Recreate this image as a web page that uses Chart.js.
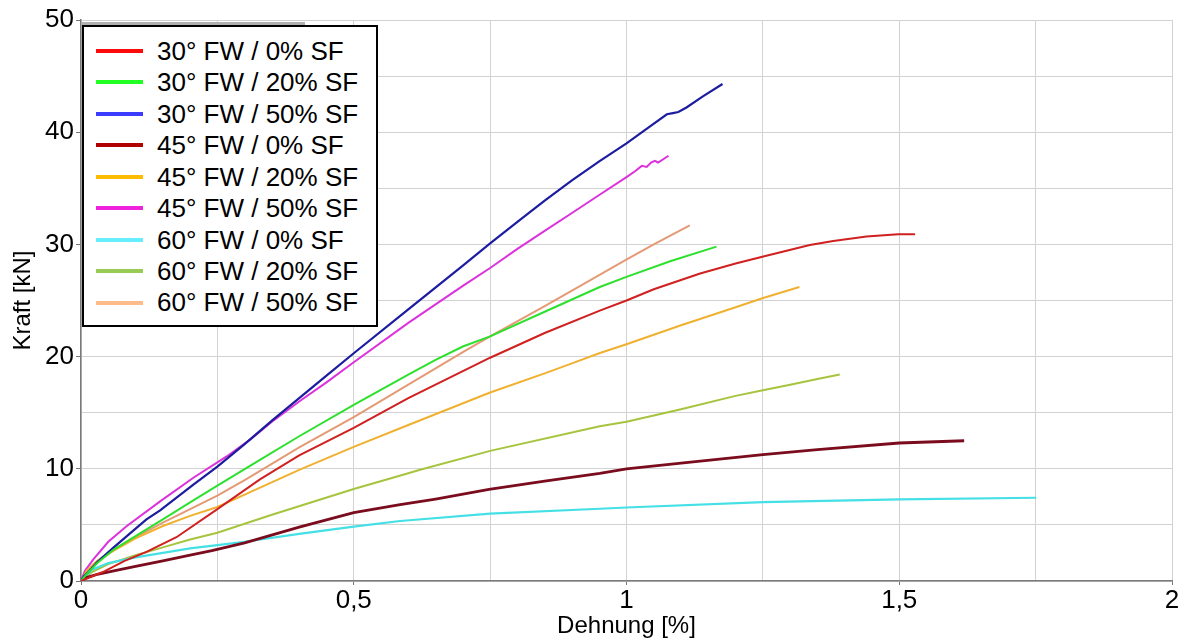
<!DOCTYPE html>
<html>
<head>
<meta charset="utf-8">
<script src="https://cdn.jsdelivr.net/npm/chart.js@4/dist/chart.umd.min.js"></script>
<style>
  html, body { margin: 0; padding: 0; background: #fff; }
  #wrap { position: relative; width: 1186px; height: 641px; }
  #c { position: absolute; left: 0; top: 0; }
  #legend { position: absolute; left: 82px; top: 24.5px; width: 292px; height: 298px;
            border: 2px solid #000; background: #fff; font-family: "Liberation Sans", Arial, sans-serif; }
  #legendShadow { position: absolute; left: 81px; top: 21.5px; width: 224px; height: 3px; background: #b0b0b0; }
  .row { position: absolute; left: 0; height: 31.46px; line-height: 31.46px; font-size: 26px; color: #000; white-space: nowrap; }
  .sw { position: absolute; left: 12px; width: 47px; height: 4px; }
  .lbl { position: absolute; left: 73px; top: 0; }
</style>
</head>
<body>
<div id="wrap">
  <canvas id="c" width="1186" height="641"></canvas>
  <div id="legendShadow"></div>
  <div id="legend"></div>
</div>
<script>
// ---------- data ----------
const seriesLabels = [
  "30° FW / 0% SF", "30° FW / 20% SF", "30° FW / 50% SF",
  "45° FW / 0% SF", "45° FW / 20% SF", "45° FW / 50% SF",
  "60° FW / 0% SF", "60° FW / 20% SF", "60° FW / 50% SF"
];
const lineColors   = ["#d02020", "#2ee02e", "#1c1ca0", "#7a0c1e", "#f0b030", "#dc32dc", "#44e0e6", "#a6c43e", "#e49a74"];
const legendColors = ["#ff0a0a", "#22ff22", "#3c3cff", "#b00000", "#ffbb00", "#ee22dd", "#66eeff", "#99cc55", "#ffbb88"];

// Dehnung [%] (x) and Kraft [kN] (y) per series
const strain30_0  = [0, 0.02, 0.04, 0.08, 0.12, 0.175, 0.25, 0.328, 0.4, 0.5, 0.6, 0.7, 0.75, 0.85, 0.951, 1.0, 1.05, 1.135, 1.2, 1.249, 1.336, 1.379, 1.44, 1.498, 1.529];
const force30_0   = [0, 0.4, 0.8, 1.8, 2.6, 3.9, 6.4, 9.05, 11.2, 13.65, 16.3, 18.7, 19.9, 22.1, 24.1, 25.0, 26.0, 27.4, 28.3, 28.9, 29.95, 30.3, 30.7, 30.9, 30.9];

const strain30_20 = [0, 0.01, 0.03, 0.06, 0.1, 0.15, 0.2, 0.25, 0.328, 0.4, 0.5, 0.6, 0.65, 0.7, 0.75, 0.85, 0.951, 1.0, 1.08, 1.165];
const force30_20  = [0, 0.6, 1.6, 2.8, 4.0, 5.5, 7.0, 8.5, 10.8, 12.9, 15.7, 18.4, 19.7, 20.9, 21.8, 24.0, 26.2, 27.1, 28.5, 29.8];

const strain30_50 = [0, 0.005, 0.015, 0.03, 0.06, 0.084, 0.12, 0.145, 0.206, 0.25, 0.3, 0.35, 0.4, 0.45, 0.5, 0.6, 0.7, 0.75, 0.8, 0.85, 0.9, 0.95, 1.0, 1.04, 1.074, 1.085, 1.095, 1.11, 1.14, 1.176];
const force30_50  = [0, 0.4, 0.9, 1.7, 3.0, 4.0, 5.5, 6.3, 8.6, 10.2, 12.2, 14.3, 16.3, 18.3, 20.3, 24.2, 28.1, 30.1, 32.0, 33.9, 35.7, 37.4, 39.0, 40.4, 41.6, 41.7, 41.8, 42.2, 43.2, 44.3];

const strain45_0  = [0, 0.01, 0.03, 0.06, 0.1, 0.15, 0.2, 0.24, 0.3, 0.4, 0.5, 0.585, 0.65, 0.748, 0.85, 0.951, 1.0, 1.1, 1.25, 1.35, 1.5, 1.619];
const force45_0   = [0, 0.3, 0.6, 0.9, 1.3, 1.8, 2.3, 2.7, 3.4, 4.8, 6.1, 6.8, 7.3, 8.16, 8.9, 9.6, 10.0, 10.5, 11.27, 11.7, 12.3, 12.5];

const strain45_20 = [0, 0.01, 0.03, 0.06, 0.1, 0.15, 0.2, 0.25, 0.3, 0.4, 0.5, 0.6, 0.75, 0.85, 0.9, 0.95, 1.0, 1.1, 1.2, 1.249, 1.317];
const force45_20  = [0, 0.9, 1.8, 2.7, 3.8, 4.9, 5.8, 6.6, 7.7, 9.9, 11.95, 13.9, 16.8, 18.5, 19.4, 20.3, 21.1, 22.8, 24.4, 25.2, 26.2];

const strain45_50 = [0, 0.007, 0.0226, 0.05, 0.084, 0.145, 0.206, 0.267, 0.31, 0.35, 0.4, 0.45, 0.5, 0.6, 0.7, 0.75, 0.8, 0.85, 0.9, 0.95, 1.0, 1.015, 1.028, 1.037, 1.045, 1.052, 1.058, 1.077];
const force45_50  = [0, 0.9, 1.93, 3.5, 4.9, 7.1, 9.2, 11.1, 12.6, 14.2, 16.0, 17.7, 19.5, 23.0, 26.3, 27.9, 29.6, 31.2, 32.8, 34.4, 36.0, 36.5, 37.0, 36.9, 37.3, 37.45, 37.3, 37.9];

const strain60_0  = [0, 0.02, 0.05, 0.1, 0.15, 0.2, 0.25, 0.3, 0.4, 0.5, 0.585, 0.75, 0.951, 1.0, 1.25, 1.5, 1.751];
const force60_0   = [0, 1.0, 1.6, 2.1, 2.5, 2.9, 3.2, 3.5, 4.2, 4.85, 5.35, 6.0, 6.44, 6.55, 7.03, 7.27, 7.42];

const strain60_20 = [0, 0.02, 0.05, 0.1, 0.15, 0.2, 0.25, 0.35, 0.5, 0.6, 0.62, 0.75, 0.951, 1.0, 1.1, 1.2, 1.25, 1.3, 1.35, 1.391];
const force60_20  = [0, 0.8, 1.5, 2.3, 3.0, 3.7, 4.3, 5.9, 8.2, 9.6, 9.9, 11.6, 13.8, 14.2, 15.3, 16.5, 17.0, 17.5, 18.0, 18.4];

const strain60_50 = [0, 0.01, 0.03, 0.06, 0.1, 0.15, 0.2, 0.25, 0.3, 0.4, 0.5, 0.6, 0.7, 0.75, 0.85, 0.933, 0.998, 1.05, 1.116];
const force60_50  = [0, 0.9, 1.8, 2.8, 3.9, 5.2, 6.4, 7.6, 9.0, 11.9, 14.6, 17.5, 20.4, 21.8, 24.5, 26.8, 28.6, 30.0, 31.7];

const xTickValues = [0, 0.5, 1, 1.5, 2];
const xTickLabels = ["0", "0,5", "1", "1,5", "2"];
const yTickValues = [0, 10, 20, 30, 40, 50];
const yTickLabels = ["0", "10", "20", "30", "40", "50"];
const xTitle = "Dehnung [%]";
const yTitle = "Kraft [kN]";

// ---------- build ----------
const strains = [strain30_0, strain30_20, strain30_50, strain45_0, strain45_20, strain45_50, strain60_0, strain60_20, strain60_50];
const forces  = [force30_0, force30_20, force30_50, force45_0, force45_20, force45_50, force60_0, force60_20, force60_50];
const widths  = [2, 2, 2.2, 2.8, 2, 2, 2.2, 2, 2];

const datasets = seriesLabels.map((lab, i) => ({
  label: lab,
  data: strains[i].map((x, k) => ({ x: x, y: forces[i][k] })),
  borderColor: lineColors[i],
  backgroundColor: lineColors[i],
  borderWidth: widths[i],
  pointRadius: 0,
  tension: 0,
  fill: false
}));

const FONT = "'Liberation Sans', Arial, Helvetica, sans-serif";
function labelFor(values, labels, v) {
  for (let i = 0; i < values.length; i++) if (Math.abs(values[i] - v) < 1e-9) return labels[i];
  return "";
}
function isMajor(values, v) {
  return values.some(t => Math.abs(t - v) < 1e-9);
}

new Chart(document.getElementById("c"), {
  type: "line",
  data: { datasets },
  options: {
    responsive: false,
    animation: false,
    layout: { padding: { top: 20, right: 14, bottom: 0, left: 0 } },
    plugins: { legend: { display: false }, tooltip: { enabled: false } },
    scales: {
      x: {
        type: "linear", min: 0, max: 2,
        afterFit: s => { s.height = 60; },
        ticks: {
          stepSize: 0.25, autoSkip: false, maxRotation: 0, padding: 0,
          color: "#000", font: { family: FONT, size: 26 },
          callback: v => labelFor(xTickValues, xTickLabels, v)
        },
        grid: {
          color: "#d2d2d2", lineWidth: 1, tickLength: 4,
          tickColor: ctx => (ctx.tick && isMajor(xTickValues, ctx.tick.value)) ? "#777" : "rgba(0,0,0,0)"
        },
        border: { color: "#7a7a7a", width: 1.5 },
        title: { display: true, text: xTitle, color: "#000", font: { family: FONT, size: 24 }, padding: { top: 0, bottom: 0 } }
      },
      y: {
        type: "linear", min: 0, max: 50,
        afterFit: s => { s.width = 81; },
        ticks: {
          stepSize: 5, autoSkip: false, padding: 2,
          color: "#000", font: { family: FONT, size: 26 },
          callback: v => labelFor(yTickValues, yTickLabels, v)
        },
        grid: {
          color: "#d2d2d2", lineWidth: 1, tickLength: 5,
          tickColor: ctx => (ctx.tick && isMajor(yTickValues, ctx.tick.value)) ? "#777" : "rgba(0,0,0,0)"
        },
        border: { color: "#7a7a7a", width: 1.5 },
        title: { display: true, text: yTitle, color: "#000", font: { family: FONT, size: 24 }, padding: { top: 9, bottom: 0 } }
      }
    }
  }
});

// ---------- legend (HTML, built from the series arrays) ----------
const legend = document.getElementById("legend");
const rowH = 31.46;
seriesLabels.forEach((lab, i) => {
  const row = document.createElement("div");
  row.className = "row";
  row.style.top = (51.5 - 26.5 - rowH / 2 + i * rowH) + "px";
  row.style.width = "292px";
  const sw = document.createElement("div");
  sw.className = "sw";
  sw.style.background = legendColors[i];
  sw.style.top = (rowH / 2 - 2 - 0.5) + "px";
  const tx = document.createElement("span");
  tx.className = "lbl";
  tx.textContent = lab;
  row.appendChild(sw);
  row.appendChild(tx);
  legend.appendChild(row);
});
</script>
</body>
</html>
